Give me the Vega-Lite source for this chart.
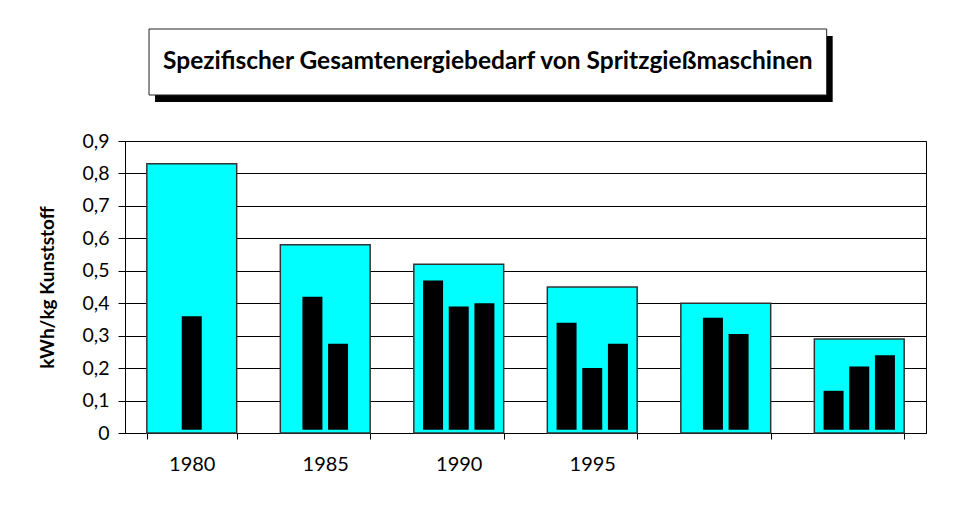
{
  "$schema": "https://vega.github.io/schema/vega-lite/v6.json",
  "padding": {"left": 38, "top": 28, "right": 5, "bottom": 5},
  "background": "white",
  "spacing": 28,
  "datasets": {
    "titel": [{"t": "Spezifischer Gesamtenergiebedarf von Spritzgießmaschinen"}],
    "gesamt": [
      {"jahr": "1980", "wert": 0.83},
      {"jahr": "1985", "wert": 0.58},
      {"jahr": "1990", "wert": 0.52},
      {"jahr": "1995", "wert": 0.45},
      {"jahr": " ", "wert": 0.40},
      {"jahr": "  ", "wert": 0.29}
    ],
    "einzel": [
      {"jahr": "1980", "platz": 3, "wert": 0.36},
      {"jahr": "1985", "platz": 2, "wert": 0.42},
      {"jahr": "1985", "platz": 4, "wert": 0.275},
      {"jahr": "1990", "platz": 1, "wert": 0.47},
      {"jahr": "1990", "platz": 3, "wert": 0.39},
      {"jahr": "1990", "platz": 5, "wert": 0.40},
      {"jahr": "1995", "platz": 1, "wert": 0.34},
      {"jahr": "1995", "platz": 3, "wert": 0.20},
      {"jahr": "1995", "platz": 5, "wert": 0.275},
      {"jahr": " ", "platz": 2, "wert": 0.355},
      {"jahr": " ", "platz": 4, "wert": 0.305},
      {"jahr": "  ", "platz": 1, "wert": 0.13},
      {"jahr": "  ", "platz": 3, "wert": 0.205},
      {"jahr": "  ", "platz": 5, "wert": 0.24}
    ]
  },
  "vconcat": [
    {
      "width": 801,
      "height": 66,
      "view": {"stroke": null},
      "data": {"name": "titel"},
      "layer": [
        {
          "mark": {"type": "rect", "fill": "black", "xOffset": 6, "x2Offset": 6, "yOffset": 7, "y2Offset": 7},
          "encoding": {
            "x": {"datum": 0.03, "type": "quantitative", "scale": {"domain": [0, 1], "nice": false, "zero": false}, "axis": null},
            "x2": {"datum": 0.876},
            "y": {"datum": 0, "type": "quantitative", "scale": {"domain": [0, 1], "nice": false, "zero": false}, "axis": null},
            "y2": {"datum": 1}
          }
        },
        {
          "mark": {"type": "rect", "fill": "white", "stroke": "#222222", "strokeWidth": 1},
          "encoding": {
            "x": {"datum": 0.03, "type": "quantitative"},
            "x2": {"datum": 0.876},
            "y": {"datum": 0, "type": "quantitative"},
            "y2": {"datum": 1}
          }
        },
        {
          "mark": {"type": "text", "font": "Lato", "fontWeight": "bold", "fontSize": 24.5, "color": "black", "align": "center", "baseline": "middle"},
          "encoding": {
            "x": {"datum": 0.453, "type": "quantitative"},
            "y": {"datum": 0.5, "type": "quantitative"},
            "text": {"field": "t"}
          }
        }
      ]
    },
    {
      "width": 801,
      "height": 292,
      "view": {"stroke": "black", "strokeWidth": 1},
      "encoding": {
        "x": {
          "field": "jahr", "type": "nominal",
          "scale": {"domain": ["1980", "1985", "1990", "1995", " ", "  "], "paddingInner": 0.327, "paddingOuter": 0.1635},
          "axis": {
            "title": null, "labelAngle": 0, "tickBand": "extent", "tickSize": 6, "tickColor": "black",
            "domainColor": "black", "labelFont": "Lato", "labelFontSize": 20, "labelColor": "black",
            "labelPadding": 15, "grid": false
          }
        },
        "y": {
          "field": "wert", "type": "quantitative",
          "scale": {"domain": [0, 0.9], "nice": false},
          "axis": {
            "values": [0, 0.1, 0.2, 0.3, 0.4, 0.5, 0.6, 0.7, 0.8, 0.9],
            "labelOverlap": false,
            "labelExpr": "datum.value == 0 ? '0' : replace(format(datum.value, '.1f'), '.', ',')",
            "title": "kWh/kg Kunststoff", "titleFont": "Lato", "titleFontWeight": "bold", "titleFontSize": 19,
            "titleColor": "black", "titlePadding": 24,
            "labelFont": "Lato", "labelFontSize": 19.5, "labelColor": "black", "labelPadding": 9,
            "tickSize": 7, "tickColor": "black", "domainColor": "black",
            "grid": true, "gridColor": "black", "gridOpacity": 1
          }
        }
      },
      "layer": [
        {
          "data": {"name": "gesamt"},
          "mark": {"type": "bar", "fill": "#00FFFF", "stroke": "#333333", "strokeWidth": 1.5}
        },
        {
          "data": {"name": "einzel"},
          "mark": {"type": "bar", "fill": "black", "width": 20},
          "encoding": {
            "xOffset": {"field": "platz", "type": "ordinal", "scale": {"domain": [1, 2, 3, 4, 5], "paddingInner": 0, "paddingOuter": 1.59}},
            "y2": {"datum": 0.01}
          }
        }
      ]
    }
  ]
}
